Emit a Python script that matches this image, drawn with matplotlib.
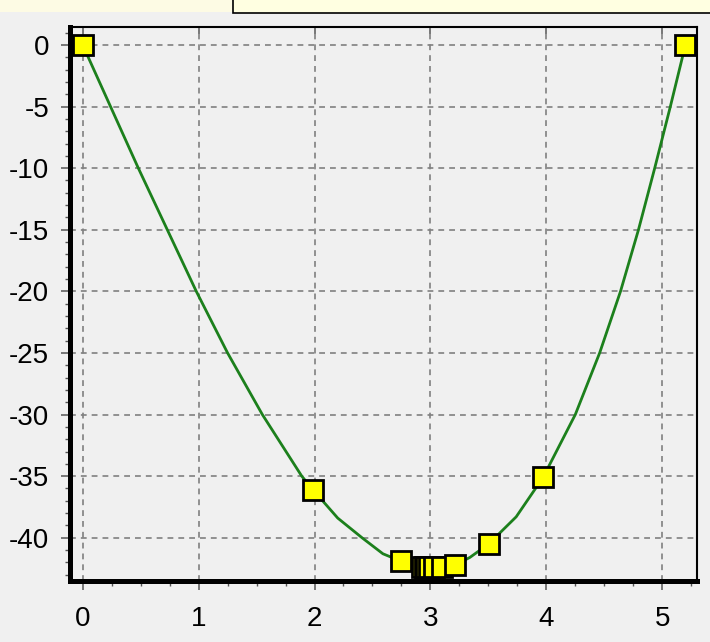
import matplotlib
matplotlib.use("Agg")
import matplotlib.pyplot as plt
from matplotlib.patches import Rectangle
from matplotlib.ticker import MultipleLocator

# smooth function curve
curve_x = [0.0, 0.24, 0.48, 0.73, 0.98, 1.25, 1.55, 1.89, 1.986, 2.2, 2.41,
           2.59, 2.745, 3.0, 3.214, 3.34, 3.503, 3.74, 3.972, 4.25, 4.46,
           4.64, 4.795, 4.935, 5.07, 5.2]
curve_y = [0.0, -5.0, -10.0, -15.0, -20.0, -25.0, -30.0, -35.0, -36.1, -38.4,
           -40.0, -41.3, -41.9, -42.4, -42.2, -41.6, -40.5, -38.3, -35.1,
           -30.0, -25.0, -20.0, -15.0, -10.0, -5.0, 0.0]

# search points (yellow squares)
pts_x = [0.0, 5.2, 1.986, 3.214, 3.972, 2.745, 3.503, 3.035, 2.924, 3.103,
         2.992, 2.966, 2.950]
pts_y = [0.0, 0.0, -36.1, -42.2, -35.1, -41.9, -40.5, -42.4, -42.4, -42.4,
         -42.4, -42.4, -42.4]

x_ticks = [0, 1, 2, 3, 4, 5]
y_ticks = [0, -5, -10, -15, -20, -25, -30, -35, -40]

plt.rcParams["font.family"] = ["Liberation Sans", "DejaVu Sans"]
plt.rcParams["axes.unicode_minus"] = False

bg = "#f0f0f0"
fig = plt.figure(figsize=(7.10, 6.42), dpi=100, facecolor=bg)
ax = fig.add_axes([69.5 / 710, 1 - 580.5 / 642, (697 - 69.5) / 710, (580.5 - 27) / 642])
ax.set_facecolor(bg)

# cropped boxes along the top edge
fig.patches.append(Rectangle((0, 1 - 12 / 642), 232 / 710, 12 / 642,
                             transform=fig.transFigure, facecolor="#fdfbe4",
                             edgecolor="none", zorder=0))
fig.patches.append(Rectangle((232.5 / 710, 1 - 13 / 642), 480 / 710, 16 / 642,
                             transform=fig.transFigure, facecolor="#ffffe1",
                             edgecolor="black", linewidth=1.2, zorder=1))

ax.plot(curve_x, curve_y, color="#1c801c", linewidth=2.0, zorder=3,
        solid_joinstyle="round")

order = sorted(range(len(pts_x)), key=lambda i: pts_x[i])
ax.plot([pts_x[i] for i in order], [pts_y[i] for i in order], linestyle="none",
        marker="s", markersize=15, markerfacecolor="#ffff00",
        markeredgecolor="black", markeredgewidth=2.0, zorder=4, clip_on=False)

ax.set_xlim(-0.114, 5.30)
ax.set_ylim(-43.47, 1.46)
ax.set_xticks(x_ticks)
ax.set_yticks(y_ticks)
ax.xaxis.set_minor_locator(MultipleLocator(0.25))
ax.yaxis.set_minor_locator(MultipleLocator(1))

ax.grid(True, which="major", color="#808080", linestyle=(0, (3.5, 3)), linewidth=1.2)
ax.set_axisbelow(True)

ax.spines["left"].set_linewidth(3.6)
ax.spines["bottom"].set_linewidth(3.6)
ax.spines["top"].set_linewidth(1.5)
ax.spines["right"].set_linewidth(1.5)

ax.tick_params(axis="both", which="major", direction="out", length=6.5, width=1.1,
               color="#555555", labelsize=20)
ax.tick_params(axis="both", which="minor", direction="out", length=3.5, width=1.0,
               color="#555555")
ax.tick_params(axis="x", which="major", pad=12)
ax.tick_params(axis="y", which="major", pad=8)

top = ax.secondary_xaxis("top")
top.set_xticks(x_ticks)
top.tick_params(direction="in", length=5, width=1.1, color="#555555", labeltop=False)
top.spines["top"].set_visible(False)

fig.savefig("out.png", dpi=100, facecolor=bg)
